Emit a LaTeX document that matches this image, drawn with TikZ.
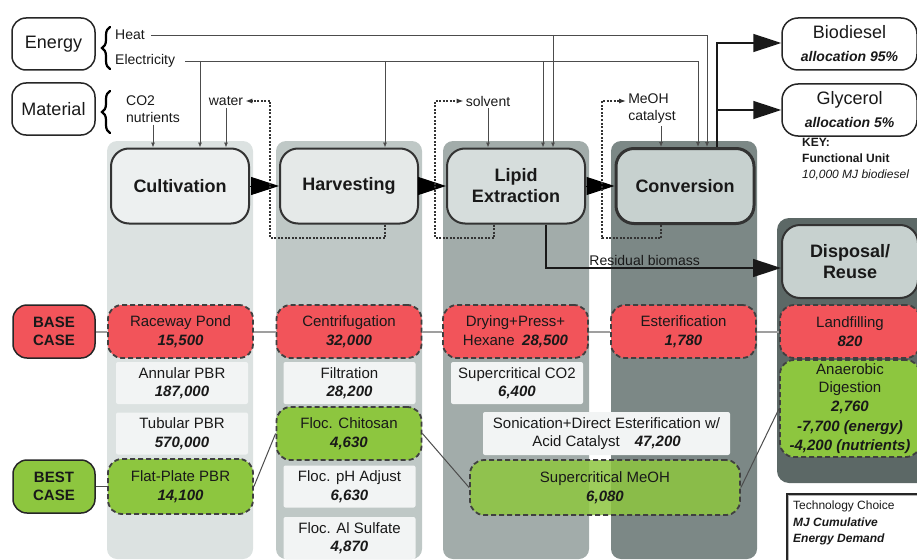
\documentclass[tikz,border=0pt]{standalone}
\usepackage{fontspec}
\setmainfont{Liberation Sans}
\usetikzlibrary{arrows.meta,decorations.pathreplacing}
\definecolor{caseRed}{HTML}{F2545A}
\definecolor{bestGreen}{HTML}{8DC63F}
\definecolor{altWhite}{HTML}{F2F4F4}
\definecolor{colCult}{HTML}{DCE2E1}
\definecolor{colHarv}{HTML}{BFC8C6}
\definecolor{colLipid}{HTML}{A2ACAA}
\definecolor{colConv}{HTML}{7C8886}
\definecolor{colDisp}{HTML}{5C6866}
\definecolor{boxCult}{HTML}{EDF0F0}
\definecolor{boxHarv}{HTML}{E5E9E8}
\definecolor{boxLipid}{HTML}{D6DDDC}
\definecolor{boxConv}{HTML}{C7D1CF}
\newcommand{\mj}[1]{\textbf{\textit{#1}}}

\begin{document}
\begin{tikzpicture}[x=1pt, y=-1pt, >=Latex, text=black!90,
  side/.style={draw=black!85, line width=1.5pt, rounded corners=14pt, minimum width=83pt, minimum height=52pt, fill=white, font=\fontsize{18}{21}\selectfont},
  lbl/.style={inner sep=2pt, font=\fontsize{14}{17}\selectfont},
  proc/.style={draw=black!80, line width=2pt, rounded corners=18pt, minimum width=138pt, minimum height=75pt, align=center, font=\fontsize{18}{21}\selectfont\bfseries},
  prod/.style={draw=black!85, line width=1.5pt, rounded corners=16pt, minimum width=135pt, minimum height=52pt, fill=white, align=center, font=\fontsize{18}{21}\selectfont},
  casebox/.style={draw=black!85, line width=1.5pt, rounded corners=14pt, minimum width=82pt, minimum height=53pt, align=center, font=\fontsize{15}{18}\selectfont\bfseries},
  tech/.style={draw=black!75, line width=1.8pt, dash pattern=on 5pt off 3pt, rounded corners=14pt, minimum width=145pt, minimum height=53pt, align=center, inner sep=1pt, font=\fontsize{15}{18.5}\selectfont},
  alt/.style={fill=altWhite, rounded corners=2pt, minimum width=132pt, minimum height=42pt, align=center, inner sep=1pt, font=\fontsize{15}{18.5}\selectfont},
  feed/.style={draw=black!70, line width=0.8pt, -{Latex[length=5pt,width=4pt]}},
  recyc/.style={draw=black!80, line width=1.3pt, dash pattern=on 2pt off 1.5pt, -{Latex[length=7pt,width=5pt]}},
  procarrow/.style={draw=black, line width=1pt, -{Triangle[length=28pt,width=18pt]}},
  bigarrow/.style={draw=black!90, line width=1.5pt, -{Triangle[length=28pt,width=18pt]}},
  curly/.style={decorate, decoration={brace, amplitude=8pt}, line width=2.2pt, line cap=round},
  link/.style={draw=gray!75, line width=2pt},
  bestlink/.style={draw=black!70, line width=1pt}]
\useasboundingbox (0,0) rectangle (917,559);
\clip (0,0) rectangle (917,559);

% columns
\fill[colCult, rounded corners=10pt] (107,141) rectangle (253,559);
\fill[colHarv, rounded corners=10pt] (276,141) rectangle (422,559);
\fill[colLipid, rounded corners=10pt] (443,141) rectangle (589,559);
\fill[colConv, rounded corners=10pt] (611,141) rectangle (757,559);
\fill[colDisp, rounded corners=12pt] (777,218) rectangle (930,483);

% inputs
\node[side] (energy) at (53.5,44) {Energy};
\node[side] (material) at (53.5,109) {Material};
\draw[curly] (110,69) -- (110,27);
\draw[curly] (110,133) -- (110,91);
\node[lbl, anchor=west] (heat) at (113,35) {Heat};
\node[lbl, anchor=west] (elec) at (113,61) {Electricity};
\node[lbl, align=left] (co2) at (153,109) {CO2\\nutrients};
\node[lbl] (water) at (226,101) {water};
\node[lbl] (solvent) at (488,101) {solvent};
\node[lbl, align=left] (mlab) at (652,109) {MeOH\\catalyst};

% process chain
\node[proc, fill=boxCult] (cult) at (180,186) {Cultivation};
\node[proc, fill=boxHarv] (harv) at (349,186) {Harvesting};
\node[proc, fill=boxLipid] (lipid) at (516,186) {Lipid\\Extraction};
\node[proc, fill=boxConv, line width=3pt] (conv) at (685,186) {Conversion};
\node[proc, fill=boxConv, minimum width=136pt, minimum height=73pt] (disp) at (850,261.5) {Disposal/\\Reuse};
\foreach \a/\b in {cult/harv, harv/lipid, lipid/conv}
  \draw[procarrow] (\a) -- (\b);

% products
\node[prod] (bio) at (849.5,44) {Biodiesel\\[2pt]{\fontsize{14}{16}\selectfont\mj{allocation 95\%}}};
\node[prod] (glyc) at (849.5,110) {Glycerol\\[2pt]{\fontsize{14}{16}\selectfont\mj{allocation 5\%}}};
\node[anchor=north west, align=left, inner sep=0pt, font=\fontsize{12}{16}\selectfont] (keyhead) at (802,138) {\textbf{KEY:}\\\textbf{Functional Unit}\\\textit{10,000 MJ biodiesel}};

% energy and material lines
\coordinate (h1) at (553,35);
\coordinate (h2) at (707,35);
\coordinate (e1) at (200,61);
\coordinate (e2) at (385,61);
\coordinate (e3) at (543,61);
\coordinate (e4) at (698,61);
\draw[feed, shorten <=4pt] (heat.east) -- (h2) -- (h2 |- conv.north);
\draw[feed] (h1) -- (h1 |- lipid.north);
\draw[feed, shorten <=8pt] (elec.east) -- (e4) -- (e4 |- conv.north);
\foreach \c/\n in {e1/cult, e2/harv, e3/lipid}
  \draw[feed] (\c) -- (\c |- \n.north);
\draw[feed] (co2.south) -- (co2.south |- cult.north);
\draw[feed] (water.south) -- (water.south |- cult.north);
\draw[feed] (solvent.south) -- (solvent.south |- lipid.north);
\draw[feed] ([xshift=9pt]mlab.south) -- ([xshift=9pt]mlab.south |- conv.north);

% recycle loops
\coordinate (wl) at (270,238);
\coordinate (wr) at (385,238);
\coordinate (sl) at (435,238);
\coordinate (sr) at (494,238);
\coordinate (ml) at (602,238);
\coordinate (mr) at (661,238);
\coordinate (mt) at (602,101);
\draw[recyc] (wr |- harv.south) -- (wr) -- (wl) -- (wl |- water.east) -- (water.east);
\draw[recyc] (sr |- lipid.south) -- (sr) -- (sl) -- (sl |- solvent.west) -- (solvent.west);
\draw[recyc] (mr |- conv.south) -- (mr) -- (ml) -- (mt) -- (mt -| mlab.west);

% residual biomass and products
\coordinate (r1) at (546,268);
\draw[bigarrow] (r1 |- lipid.south) -- (r1) -- node[pos=0.42, above, lbl] (resid) {Residual biomass} (r1 -| disp.west);
\coordinate (o1) at (717,43);
\coordinate (o2) at (717,110);
\draw[bigarrow] (o1 |- conv.north) -- (o1) -- (o1 -| bio.west);
\draw[bigarrow] (o2) -- (o2 -| glyc.west);

% technology choices
\node[casebox, fill=caseRed] (base) at (54,331.5) {BASE\\CASE};
\node[tech, fill=caseRed] (race) at (180.5,331.5) {Raceway Pond\\\mj{15,500}};
\node[tech, fill=caseRed] (centri) at (349,331.5) {Centrifugation\\\mj{32,000}};
\node[tech, fill=caseRed] (dry) at (515.5,331.5) {Drying+Press+\\Hexane\enspace\mj{28,500}};
\node[tech, fill=caseRed] (ester) at (683.5,331.5) {Esterification\\\mj{1,780}};
\node[tech, fill=caseRed, minimum width=140pt] (land) at (850,331.5) {Landfilling\\\mj{820}};
\draw[link] (base) -- (race) -- (centri) -- (dry) -- (ester) -- (land);

\node[alt] (annular) at (182,383) {Annular PBR\\\mj{187,000}};
\node[alt] (filtr) at (349.5,383) {Filtration\\\mj{28,200}};
\node[alt] (sco2) at (517,383) {Supercritical CO2\\\mj{6,400}};
\node[tech, fill=bestGreen, minimum width=140pt, minimum height=97pt] (anaer) at (850,408.5) {Anaerobic\\Digestion\\\mj{2,760}\\[2pt]\mj{-7,700 (energy)}\\\mj{-4,200 (nutrients)}};

\node[alt] (tubular) at (182,433.5) {Tubular PBR\\\mj{570,000}};
\node[tech, fill=bestGreen] (chito) at (349,433.5) {Floc. Chitosan\\\mj{4,630}};
\node[alt, minimum width=247pt, minimum height=43pt] (sonic) at (606.5,433.5) {Sonication+Direct Esterification w/\\Acid Catalyst\quad\mj{47,200}};

\node[casebox, fill=bestGreen] (best) at (54,486.5) {BEST\\CASE};
\node[tech, fill=bestGreen, minimum height=55pt] (flat) at (180.5,486.5) {Flat-Plate PBR\\\mj{14,100}};
\node[alt] (phadj) at (349.5,486.5) {Floc. pH Adjust\\\mj{6,630}};
\node[tech, fill=bestGreen, fill opacity=0.85, text opacity=1, minimum width=270pt, minimum height=55pt] (meoh) at (605,487.5) {Supercritical MeOH\\\mj{6,080}};
\node[alt] (alsulf) at (349.5,538) {Floc. Al Sulfate\\\mj{4,870}};
\draw[bestlink] (best) -- (flat);
\draw[bestlink] (flat.east) -- (chito.west);
\draw[bestlink] (chito.east) -- (meoh.west);
\draw[bestlink] (meoh.east) -- (anaer.west);

% key
\draw[draw=gray!60, line width=3pt] (787,494) rectangle (935,590);
\draw[draw=black!85, line width=1.2pt] (787,494) rectangle (935,590);
\node[anchor=north west, align=left, inner sep=0pt, font=\fontsize{12}{16.5}\selectfont] (keytxt) at (793,501) {Technology Choice\\\mj{MJ Cumulative}\\\mj{Energy Demand}};
\end{tikzpicture}
\end{document}
